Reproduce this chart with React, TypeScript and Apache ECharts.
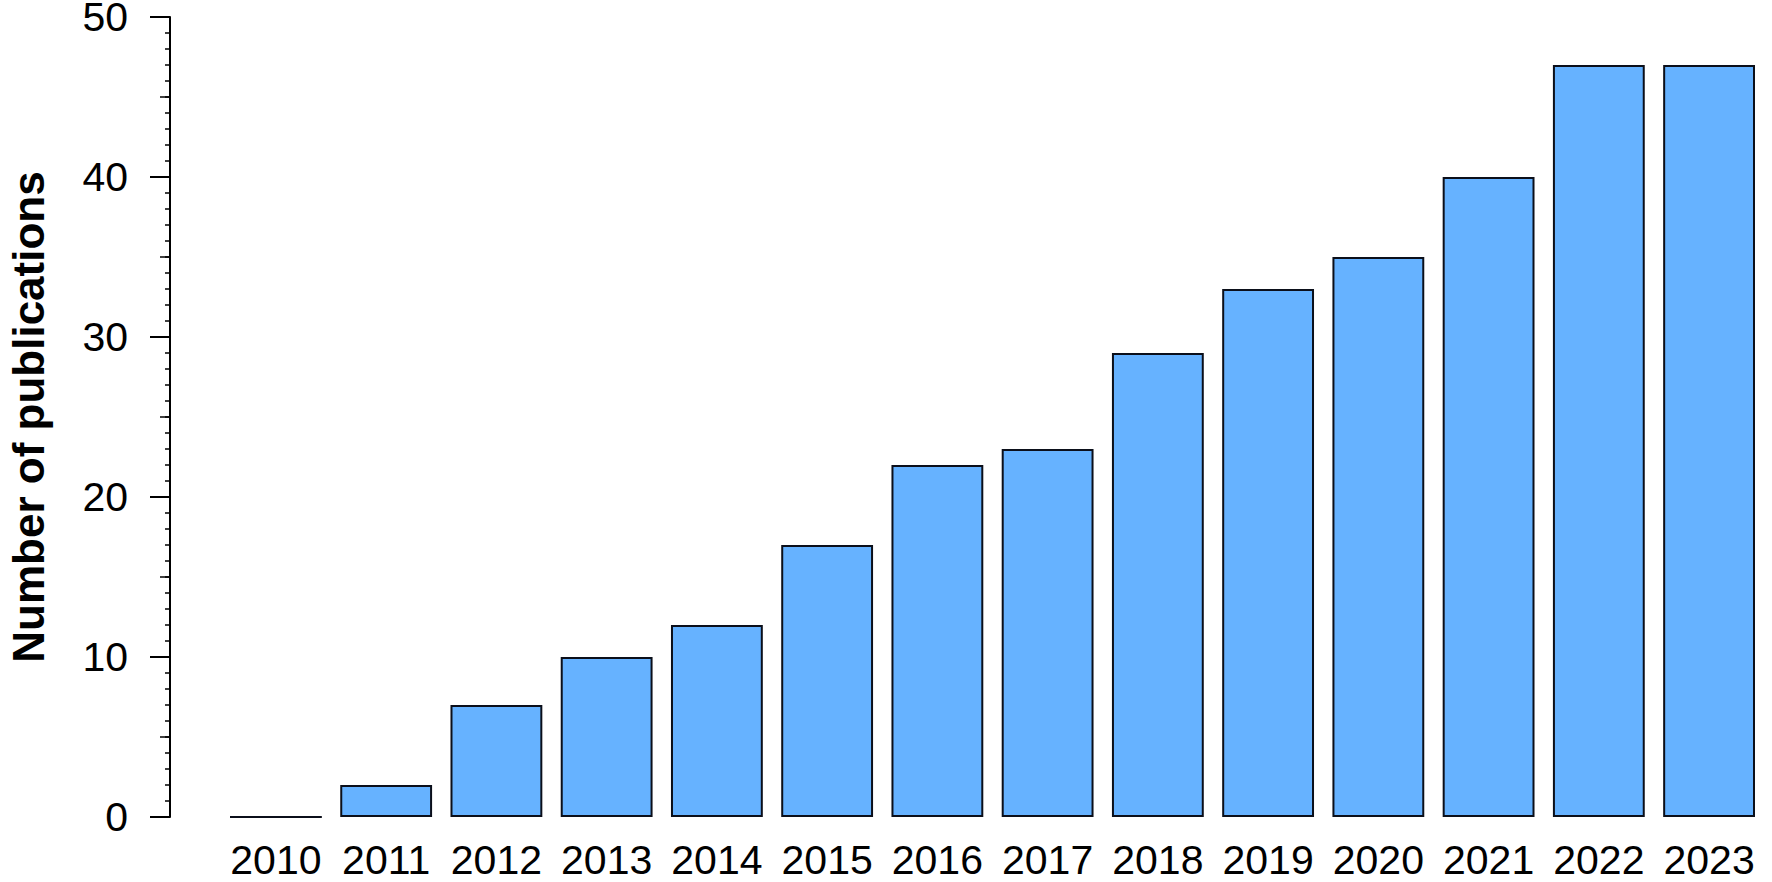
import React, { useEffect, useRef } from "react";
import * as echarts from "echarts";

const years = ["2010", "2011", "2012", "2013", "2014", "2015", "2016", "2017", "2018", "2019", "2020", "2021", "2022", "2023"];
const publications = [0, 2, 7, 10, 12, 17, 22, 23, 29, 33, 35, 40, 47, 47];
const yMin = 0;
const yMax = 50;
const yTitle = "Number of publications";

const FONT = "'Liberation Sans', Arial, Helvetica, sans-serif";

export default function App() {
  const ref = useRef<HTMLDivElement>(null);
  useEffect(() => {
    if (!ref.current) return;
    const chart = echarts.init(ref.current, null, { renderer: "svg" });
    const yOffset = 50.8;
    chart.setOption({
      animation: false,
      backgroundColor: "#ffffff",
      grid: { left: 220.8, right: 7.8, top: 17, bottom: 65, containLabel: false, outerBoundsMode: "none" },
      xAxis: {
        type: "category",
        data: years,
        axisLine: { show: false },
        axisTick: { show: false },
        axisLabel: { interval: 0, color: "#000", fontFamily: FONT, fontSize: 41, margin: 26, lineHeight: 34 },
      },
      yAxis: [
        {
          type: "value",
          min: yMin,
          max: yMax,
          interval: 10,
          offset: yOffset,
          name: yTitle,
          nameLocation: "middle",
          nameGap: 122,
          nameTextStyle: { color: "#000", fontFamily: FONT, fontSize: 44, fontWeight: "bold", lineHeight: 40 },
          axisLine: { show: true, lineStyle: { color: "#000", width: 2 } },
          axisTick: { show: true, length: 20, lineStyle: { color: "#000", width: 2 } },
          minorTick: { show: true, splitNumber: 10, length: 5, lineStyle: { color: "#000", width: 1.5 } },
          axisLabel: { color: "#000", fontFamily: FONT, fontSize: 41, margin: 42, lineHeight: 30 },
          splitLine: { show: false },
        },
        {
          type: "value",
          min: yMin,
          max: yMax,
          interval: 5,
          offset: yOffset,
          position: "left",
          axisLine: { show: false },
          axisTick: { show: true, length: 10, lineStyle: { color: "#000", width: 1.5 } },
          axisLabel: { show: false },
          splitLine: { show: false },
        },
      ],
      series: [
        {
          type: "bar",
          data: publications,
          yAxisIndex: 0,
          barCategoryGap: "16.7%",
          itemStyle: { color: "#66b2ff", borderColor: "#0b0f1a", borderWidth: 2 },
        },
      ],
    });
    return () => chart.dispose();
  }, []);
  return <div ref={ref} style={{ position: "fixed", left: 0, top: 0, width: 1772, height: 882 }} />;
}
